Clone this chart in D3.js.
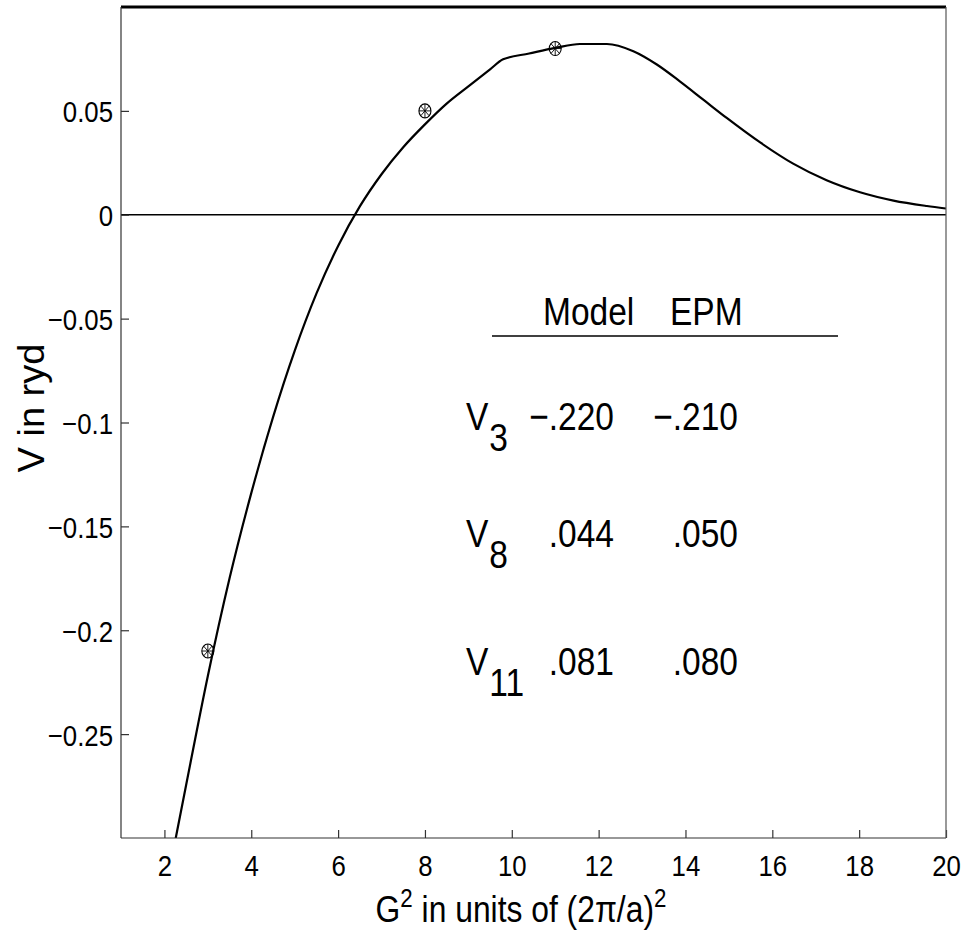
<!DOCTYPE html>
<html>
<head>
<meta charset="utf-8">
<script src="https://cdn.jsdelivr.net/npm/d3@7"></script>
<style>
  body { margin: 0; background: #fff; }
  text { font-family: "Liberation Sans", Arial, sans-serif; fill: #000; }
</style>
</head>
<body>
<div id="chart"></div>
<script>
// model potential curve V(G^2)
var g2 = [2.0, 2.27, 2.5, 3.0, 3.5, 4.0, 4.5, 5.0, 5.5, 6.0, 6.5, 7.0, 7.5, 8.0, 8.5,
          9.0, 9.5, 9.8, 10.4, 11.0, 11.57, 12.19, 12.8, 13.34, 13.87,
          14.41, 14.95, 15.72, 16.48, 17.25, 18.02, 18.79, 19.56, 20];
var vModel = [-0.328, -0.299, -0.2745, -0.222, -0.175, -0.134, -0.0975, -0.0655, -0.038,
              -0.015, 0.004, 0.0195, 0.0325, 0.0435, 0.0535, 0.0618, 0.0700, 0.0748, 0.0776,
              0.0803, 0.0822, 0.0822, 0.0787, 0.0723, 0.0642, 0.0554, 0.0466, 0.0348,
              0.0246, 0.0166, 0.0108, 0.0068, 0.0042, 0.003];

// EPM points
var epmG2 = [3, 8, 11];
var epmV = [-0.21, 0.05, 0.08];

// axis ticks
var xTicks = [2, 4, 6, 8, 10, 12, 14, 16, 18, 20];
var yTicks = [0.05, 0, -0.05, -0.1, -0.15, -0.2, -0.25];

// table in the plot
var tableHead = ["Model", "EPM"];
var rowSubs = ["3", "8", "11"];
var modelVals = ["\u2212.220", ".044", ".081"];
var epmVals = ["\u2212.210", ".050", ".080"];

function drawChart() {
    var W = 965, H = 941;
    var mLeft = 121, mRight = 946, mTop = 7, mBottom = 838;
    var sx = 0.86; // text looks horizontally squeezed

    var svg = d3.select("#chart").append("svg")
        .attr("width", W).attr("height", H);

    var x = d3.scaleLinear().domain([1, 20]).range([mLeft, mRight]);
    var y = d3.scaleLinear().domain([-0.3, 0.1]).range([mBottom, mTop]);

    svg.append("clipPath").attr("id", "clip")
      .append("rect").attr("x", mLeft).attr("y", mTop)
      .attr("width", mRight - mLeft).attr("height", mBottom - mTop);

    // zero line
    svg.append("line")
        .attr("x1", x(1)).attr("x2", x(20))
        .attr("y1", y(0)).attr("y2", y(0))
        .attr("stroke", "#000").attr("stroke-width", 1.6);

    // curve
    var pts = g2.map(function (d, i) { return [d, vModel[i]]; });
    var line = d3.line()
        .x(function (d) { return x(d[0]); })
        .y(function (d) { return y(d[1]); })
        .curve(d3.curveMonotoneX);

    svg.append("path")
        .attr("clip-path", "url(#clip)")
        .attr("d", line(pts))
        .attr("fill", "none")
        .attr("stroke", "#000")
        .attr("stroke-width", 2.2);

    // markers: circle with asterisk
    var mk = svg.selectAll("g.mk")
        .data(epmG2.map(function (d, i) { return [d, epmV[i]]; }))
        .enter().append("g")
        .attr("class", "mk")
        .attr("transform", function (d) { return "translate(" + x(d[0]) + "," + y(d[1]) + ")"; });

    var rx = 6, ry = 7;
    mk.append("ellipse").attr("rx", rx).attr("ry", ry)
        .attr("fill", "none").attr("stroke", "#000").attr("stroke-width", 1.1);
    [0, 45, 90, 135].forEach(function (a) {
        var r = a * Math.PI / 180;
        mk.append("line")
            .attr("x1", -rx * Math.cos(r)).attr("y1", -ry * Math.sin(r))
            .attr("x2", rx * Math.cos(r)).attr("y2", ry * Math.sin(r))
            .attr("stroke", "#000").attr("stroke-width", 0.9);
    });

    // axes
    var fmt = function (d) { return d === 0 ? "0" : String(d).replace("-", "\u2212"); };

    var gy = svg.append("g")
        .attr("transform", "translate(" + mLeft + ",0)")
        .call(d3.axisLeft(y).tickValues(yTicks).tickSize(-8).tickFormat(fmt));
    gy.select(".domain").remove();
    gy.selectAll(".tick line").attr("stroke", "#333").attr("stroke-width", 1.2);
    gy.selectAll(".tick text")
        .attr("x", null).attr("dy", null)
        .attr("fill", "#000")
        .attr("transform", "translate(-8,11) scale(" + sx + ",1)")
        .attr("text-anchor", "end")
        .style("font-size", "30px");

    var gx = svg.append("g")
        .attr("transform", "translate(0," + mBottom + ")")
        .call(d3.axisBottom(x).tickValues(xTicks).tickSize(-8));
    gx.select(".domain").remove();
    gx.selectAll(".tick line").attr("stroke", "#333").attr("stroke-width", 1.2);
    gx.selectAll(".tick text")
        .attr("y", null).attr("dy", null)
        .attr("fill", "#000")
        .attr("transform", "translate(0,38) scale(" + sx + ",1)")
        .style("font-size", "30px");

    // frame
    svg.append("line").attr("x1", mLeft).attr("x2", mRight).attr("y1", mTop).attr("y2", mTop)
        .attr("stroke", "#000").attr("stroke-width", 3);
    svg.append("line").attr("x1", mLeft).attr("x2", mRight).attr("y1", mBottom).attr("y2", mBottom)
        .attr("stroke", "#333").attr("stroke-width", 1.2);
    svg.append("line").attr("x1", mLeft).attr("x2", mLeft).attr("y1", mTop).attr("y2", mBottom)
        .attr("stroke", "#333").attr("stroke-width", 1.2);
    svg.append("line").attr("x1", mRight).attr("x2", mRight).attr("y1", mTop).attr("y2", mBottom)
        .attr("stroke", "#555").attr("stroke-width", 1.2);

    // axis titles
    var xt = svg.append("text")
        .attr("transform", "translate(521,922) scale(" + sx + ",1)")
        .attr("text-anchor", "middle")
        .style("font-size", "37px");
    xt.append("tspan").text("G");
    xt.append("tspan").attr("dy", -15).style("font-size", "26px").text("2");
    xt.append("tspan").attr("dy", 15).text(" in units of (2\u03c0/a)");
    xt.append("tspan").attr("dy", -15).style("font-size", "26px").text("2");

    svg.append("text")
        .attr("transform", "translate(44,408) scale(0.95,1) rotate(-90)")
        .attr("text-anchor", "middle")
        .style("font-size", "38px")
        .text("V in ryd");

    // table
    var tfs = "39px";
    var colEnd = [614, 738];

    svg.append("text")
        .attr("transform", "translate(543,325) scale(" + sx + ",1)")
        .style("font-size", tfs).text(tableHead[0]);
    svg.append("text")
        .attr("transform", "translate(670,325) scale(" + sx + ",1)")
        .style("font-size", tfs).text(tableHead[1]);

    svg.append("line")
        .attr("x1", 492).attr("x2", 838).attr("y1", 336).attr("y2", 336)
        .attr("stroke", "#000").attr("stroke-width", 1.3);

    var rowY = [430, 547, 675];
    rowSubs.forEach(function (s, i) {
        var t = svg.append("text")
            .attr("transform", "translate(466," + rowY[i] + ") scale(" + sx + ",1)")
            .style("font-size", tfs);
        t.append("tspan").text("V");
        t.append("tspan").attr("dx", 1).attr("dy", 21).text(s);

        svg.append("text")
            .attr("transform", "translate(" + colEnd[0] + "," + rowY[i] + ") scale(" + sx + ",1)")
            .attr("text-anchor", "end")
            .style("font-size", tfs).text(modelVals[i]);
        svg.append("text")
            .attr("transform", "translate(" + colEnd[1] + "," + rowY[i] + ") scale(" + sx + ",1)")
            .attr("text-anchor", "end")
            .style("font-size", tfs).text(epmVals[i]);
    });
}

drawChart();
</script>
</body>
</html>
